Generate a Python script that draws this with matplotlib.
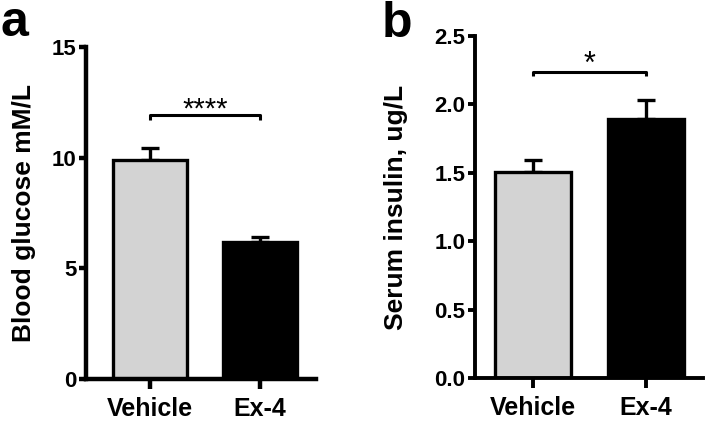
import numpy as np
import matplotlib.pyplot as plt

plt.rcParams['font.family'] = ['Liberation Sans', 'DejaVu Sans']

groups = ['Vehicle', 'Ex-4']
bar_colors = ['#d3d3d3', '#000000']

glucose = [9.9, 6.17]
glucose_err = [0.55, 0.26]

insulin = [1.507, 1.892]
insulin_err = [0.085, 0.14]


def panel(ax, vals, errs, ylim, yticks, fmt, ylabel, bracket_y, drop, stars,
          star_y, star_size, xlim, lw, lpad):
    x = np.arange(len(groups))
    ax.bar(x, vals, width=0.67, color=bar_colors, edgecolor='black',
           linewidth=2.4, zorder=2)
    ax.errorbar(x, vals, yerr=[np.zeros(len(errs)), errs], fmt='none',
                ecolor='black', elinewidth=2.4, capsize=6.8, capthick=2.4,
                zorder=1)
    ax.plot([0, 0, 1, 1], [bracket_y - drop, bracket_y, bracket_y,
                           bracket_y - drop],
            color='black', lw=2.2, solid_capstyle='butt', clip_on=False)
    ax.text(0.5, star_y, stars, ha='center', va='baseline',
            fontsize=star_size)
    ax.set_xlim(*xlim)
    ax.set_ylim(*ylim)
    ax.set_yticks(yticks)
    ax.set_yticklabels([fmt.format(v) for v in yticks])
    ax.set_xticks(x)
    ax.set_xticklabels(groups)
    ax.spines['top'].set_visible(False)
    ax.spines['right'].set_visible(False)
    for s in ['left', 'bottom']:
        ax.spines[s].set_linewidth(lw)
    ax.tick_params(axis='both', width=lw, direction='out')
    ax.tick_params(axis='y', labelsize=16, pad=2, length=5)
    ax.tick_params(axis='x', labelsize=18, pad=6, length=7)
    for lab in ax.get_xticklabels() + ax.get_yticklabels():
        lab.set_fontweight('bold')
    ax.set_ylabel(ylabel, fontsize=19, fontweight='bold', labelpad=lpad)


fig = plt.figure(figsize=(7.05, 4.22), dpi=100)
ax1 = fig.add_axes([0.122, 0.102, 0.326, 0.787])
ax2 = fig.add_axes([0.674, 0.104, 0.323, 0.811])

panel(ax1, glucose, glucose_err, (0, 15), [0, 5, 10, 15], '{:g}',
      'Blood glucose mM/L', 11.9, 0.2, '****', 11.8, 21, (-0.58, 1.51), 3.2,
      11)
panel(ax2, insulin, insulin_err, (0, 2.5), [0, 0.5, 1.0, 1.5, 2.0, 2.5],
      '{:.1f}', 'Serum insulin, ug/L', 2.237, 0.03, '*', 2.228, 22,
      (-0.51, 1.5), 2.8, 19)

fig.text(0.0, 0.915, 'a', fontsize=36, fontweight='bold',
         va='baseline', ha='left')
fig.text(0.541, 0.912, 'b', fontsize=36, fontweight='bold',
         va='baseline', ha='left')

fig.savefig('out.png', dpi=100)
